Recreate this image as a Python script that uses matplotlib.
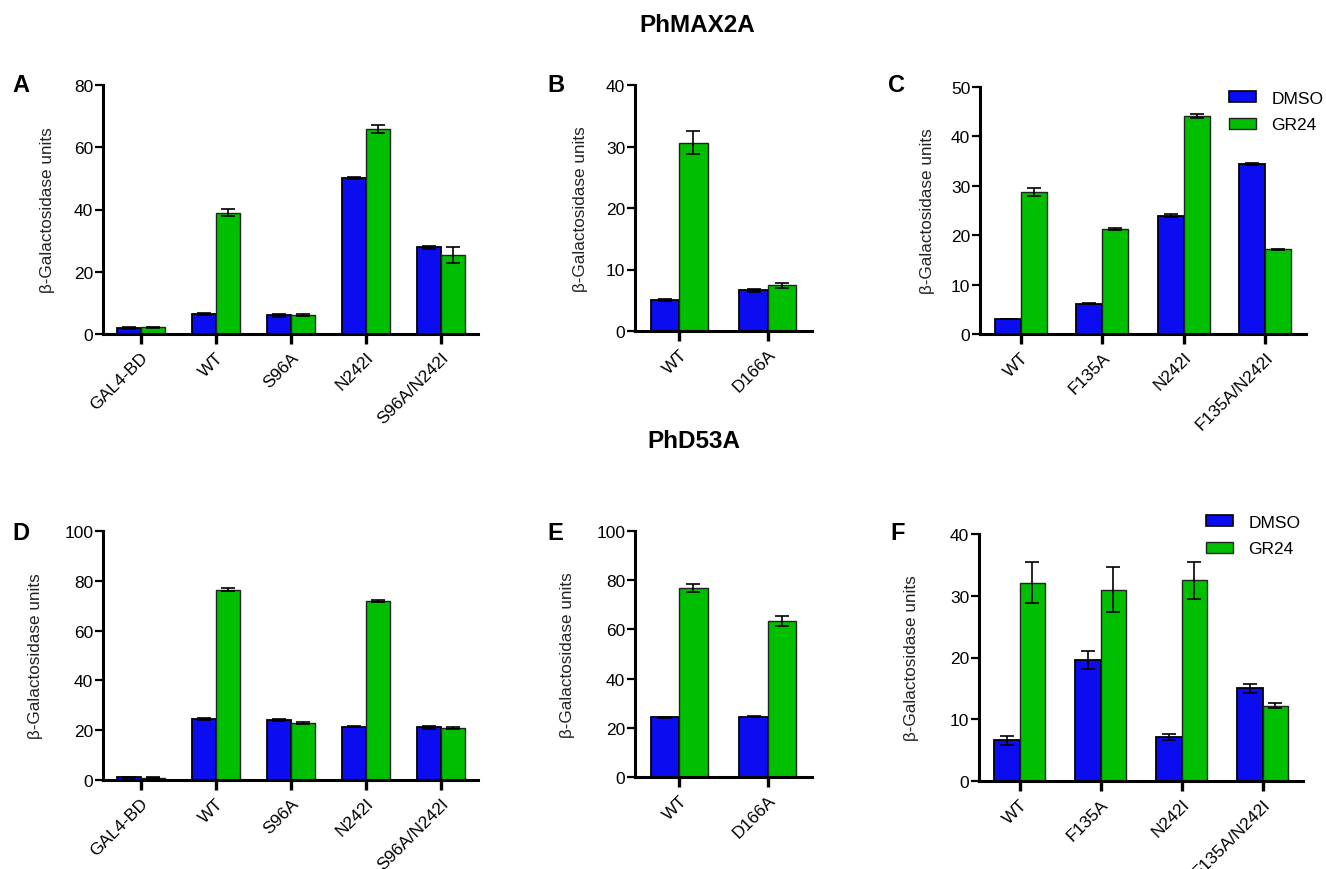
import matplotlib.pyplot as plt
import numpy as np
from matplotlib.patches import Patch

plt.rcParams['font.family'] = ['Liberation Sans', 'DejaVu Sans']

BLUE = '#0c0cf0'
GREEN = '#00bf00'

# PhMAX2A
a_labels = ['GAL4-BD', 'WT', 'S96A', 'N242I', 'S96A/N242I']
a_dmso = [1.9, 6.4, 6.0, 50.2, 27.8]
a_dmso_err = [0.3, 0.4, 0.4, 0.4, 0.4]
a_gr24 = [2.2, 39.0, 6.1, 65.9, 25.3]
a_gr24_err = [0.2, 1.2, 0.2, 1.3, 2.6]

b_labels = ['WT', 'D166A']
b_dmso = [5.0, 6.6]
b_dmso_err = [0.2, 0.3]
b_gr24 = [30.6, 7.4]
b_gr24_err = [1.9, 0.4]

c_labels = ['WT', 'F135A', 'N242I', 'F135A/N242I']
c_dmso = [3.0, 6.1, 23.9, 34.5]
c_dmso_err = [0.0, 0.1, 0.3, 0.2]
c_gr24 = [28.8, 21.2, 44.1, 17.2]
c_gr24_err = [0.8, 0.2, 0.4, 0.1]

# PhD53A
d_labels = ['GAL4-BD', 'WT', 'S96A', 'N242I', 'S96A/N242I']
d_dmso = [1.1, 24.3, 24.1, 21.4, 21.2]
d_dmso_err = [0.2, 0.4, 0.5, 0.3, 0.6]
d_gr24 = [1.0, 76.5, 22.9, 71.8, 20.8]
d_gr24_err = [0.1, 0.6, 0.4, 0.3, 0.5]

e_labels = ['WT', 'D166A']
e_dmso = [24.3, 24.4]
e_dmso_err = [0.2, 0.2]
e_gr24 = [77.0, 63.3]
e_gr24_err = [1.6, 2.0]

f_labels = ['WT', 'F135A', 'N242I', 'F135A/N242I']
f_dmso = [6.6, 19.6, 7.1, 15.0]
f_dmso_err = [0.7, 1.4, 0.5, 0.75]
f_gr24 = [32.1, 31.0, 32.5, 12.2]
f_gr24_err = [3.3, 3.6, 3.0, 0.4]

W, H = 1326, 870
fig = plt.figure(figsize=(W / 100, H / 100), dpi=100)


def px_axes(x0, y0, x1, y1):
    return fig.add_axes([x0 / W, 1 - y1 / H, (x1 - x0) / W, (y1 - y0) / H])


def panel(box, labels, dmso, dmso_err, gr24, gr24_err, ymax, step, letter, letter_xy, label_x):
    ax = px_axes(*box)
    x = np.arange(len(labels))
    bw = 0.32
    ekw = dict(elinewidth=1.2, capthick=1.2, capsize=5, ecolor='black')
    ax.bar(x - bw / 2, dmso, bw, yerr=dmso_err, color=BLUE, edgecolor='black',
           linewidth=1.3, error_kw=ekw, label='DMSO')
    ax.bar(x + bw / 2, gr24, bw, yerr=gr24_err, color=GREEN, edgecolor='#222222',
           linewidth=1.0, error_kw=ekw, label='GR24')
    ax.set_xlim(-0.5, len(labels) - 0.5)
    ax.set_ylim(0, ymax)
    ax.set_yticks(np.arange(0, ymax + 0.1, step))
    ax.set_xticks(x)
    ax.set_xticklabels(labels, rotation=45, ha='right', rotation_mode='anchor')
    for s in ['top', 'right']:
        ax.spines[s].set_visible(False)
    for s in ['left', 'bottom']:
        ax.spines[s].set_linewidth(2.2)
    ax.tick_params(axis='x', length=7, width=2.4, labelsize=12.5, pad=4)
    ax.tick_params(axis='y', length=6, width=1.6, labelsize=12.5, pad=1)
    ax.set_ylabel('β-Galactosidase units', fontsize=12.3, color='#222222')
    ax.yaxis.set_label_coords(label_x, 0.5)
    fig.text(letter_xy[0] / W, 1 - letter_xy[1] / H, letter, fontsize=17,
             fontweight='bold', ha='left', va='center')
    return ax


panel((103, 86, 478, 335), a_labels, a_dmso, a_dmso_err, a_gr24, a_gr24_err,
      80, 20, 'A', (12, 85), -0.128)
panel((635, 86, 812, 332), b_labels, b_dmso, b_dmso_err, b_gr24, b_gr24_err,
      40, 10, 'B', (547, 85), -0.265)
panel((980, 88, 1306, 335), c_labels, c_dmso, c_dmso_err, c_gr24, c_gr24_err,
      50, 10, 'C', (888, 85), -0.138)
panel((103, 532, 478, 781), d_labels, d_dmso, d_dmso_err, d_gr24, d_gr24_err,
      100, 20, 'D', (12, 533), -0.16)
panel((635, 532, 812, 778), e_labels, e_dmso, e_dmso_err, e_gr24, e_gr24_err,
      100, 20, 'E', (547, 533), -0.34)
panel((979, 535, 1303, 782), f_labels, f_dmso, f_dmso_err, f_gr24, f_gr24_err,
      40, 10, 'F', (890, 533), -0.185)

fig.text(697 / W, 1 - 25 / H, 'PhMAX2A', fontsize=17.5, fontweight='bold', ha='center', va='center')
fig.text(694 / W, 1 - 442 / H, 'PhD53A', fontsize=17.5, fontweight='bold', ha='center', va='center')

handles = [Patch(facecolor=BLUE, edgecolor='black', linewidth=1.2),
           Patch(facecolor=GREEN, edgecolor='#222222', linewidth=1.0)]
for lx, ly in [(1229, 92), (1206, 516)]:
    fig.legend(handles, ['DMSO', 'GR24'], loc='upper left',
               bbox_to_anchor=(lx / W, 1 - ly / H), frameon=False, fontsize=12.5,
               handlelength=1.55, handleheight=0.6, handletextpad=0.9,
               labelspacing=0.65, borderpad=0, borderaxespad=0)

fig.savefig('out.png', dpi=100)
